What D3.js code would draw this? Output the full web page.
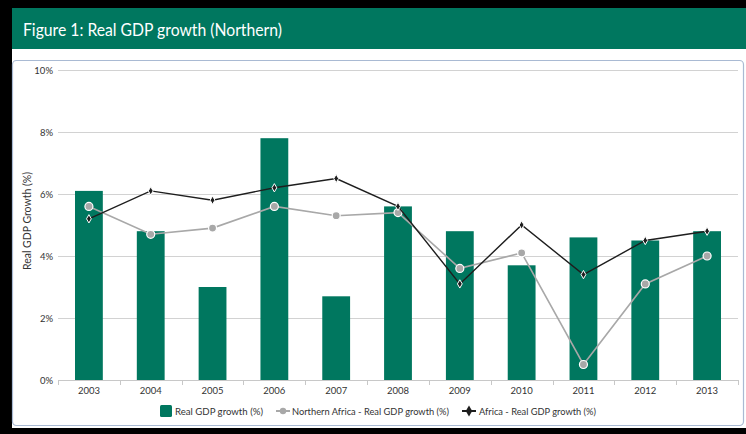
<!DOCTYPE html>
<html>
<head>
<meta charset="utf-8">
<script src="https://cdn.jsdelivr.net/npm/d3@7"></script>
<style>
  html, body { margin: 0; padding: 0; background: #000; }
  svg { display: block; }
  text { font-family: Lato, "Open Sans", sans-serif; }
</style>
</head>
<body>
<svg id="chart" width="746" height="434"></svg>
<script>
// Real GDP growth, Northern region vs. Northern Africa and Africa
const years = ["2003","2004","2005","2006","2007","2008","2009","2010","2011","2012","2013"];
const regionGrowth = [6.1, 4.8, 3.0, 7.8, 2.7, 5.6, 4.8, 3.7, 4.6, 4.5, 4.8];
const northernAfricaGrowth = [5.6, 4.7, 4.9, 5.6, 5.3, 5.4, 3.6, 4.1, 0.5, 3.1, 4.0];
const africaGrowth = [5.2, 6.1, 5.8, 6.2, 6.5, 5.6, 3.1, 5.0, 3.4, 4.5, 4.8];
const yTicks = [0, 2, 4, 6, 8, 10];
const titleText = "Figure 1: Real GDP growth (Northern)";
const yAxisTitle = "Real GDP Growth (%)";
const legendLabels = ["Real GDP growth (%)", "Northern Africa - Real GDP growth (%)", "Africa - Real GDP growth (%)"];

const GREEN = "#00775f";
const GREY = "#a8a8a8";
const DARK = "#1e1e1e";

const svg = d3.select("#chart");

// frame: black surround, white page, green title band
svg.append("rect").attr("x", 0).attr("y", 0).attr("width", 746).attr("height", 434).attr("fill", "#000");
svg.append("rect").attr("x", 12).attr("y", 8).attr("width", 734).attr("height", 420).attr("fill", "#fff");
svg.append("rect").attr("x", 12).attr("y", 8).attr("width", 734).attr("height", 41).attr("fill", GREEN);
svg.append("text")
  .attr("x", 23).attr("y", 36)
  .attr("fill", "#fff")
  .attr("font-size", 17)
  .attr("textLength", 259).attr("lengthAdjust", "spacingAndGlyphs")
  .text(titleText);

// chart panel
svg.append("rect")
  .attr("x", 12.5).attr("y", 60.5).attr("width", 731).attr("height", 365)
  .attr("rx", 4).attr("fill", "#fff")
  .attr("stroke", "#a9bad3").attr("stroke-width", 1.2);

const margin = { left: 58, right: 738, top: 70, bottom: 380 };

const x = d3.scaleBand().domain(years).range([margin.left, margin.right]).paddingInner(0.55).paddingOuter(0.275);
const xc = d3.scaleBand().domain(years).range([margin.left, margin.right]);
const y = d3.scaleLinear().domain([0, 10]).range([margin.bottom, margin.top]);

// horizontal gridlines + y labels
const yAxis = d3.axisLeft(y).tickValues(yTicks).tickFormat(d => d + "%")
  .tickSize(-(margin.right - margin.left)).tickPadding(5);
const gy = svg.append("g").attr("transform", `translate(${margin.left},0)`).call(yAxis);
gy.select(".domain").remove();
gy.selectAll(".tick line").attr("stroke", "#d2d2d2").attr("stroke-width", 1);
gy.selectAll(".tick text").attr("fill", "#333").attr("font-size", 9.5)
  .style("font-family", "Lato, 'Open Sans', sans-serif");

// y axis title
svg.append("text")
  .attr("transform", `translate(31,${(margin.top + margin.bottom) / 2 - 4}) rotate(-90)`)
  .attr("text-anchor", "middle")
  .attr("fill", "#333")
  .attr("font-size", 10.5)
  .text(yAxisTitle);

// bars
svg.append("g").selectAll("rect")
  .data(years.map((yr, i) => ({ yr, v: regionGrowth[i] })))
  .join("rect")
  .attr("x", d => x(d.yr))
  .attr("y", d => y(d.v))
  .attr("width", x.bandwidth())
  .attr("height", d => y(0) - y(d.v))
  .attr("fill", GREEN);

// x axis: baseline with ticks at category boundaries
const xAxisG = svg.append("g").attr("transform", `translate(0,${margin.bottom})`);
xAxisG.append("line").attr("x1", margin.left).attr("x2", margin.right).attr("y1", 0.5).attr("y2", 0.5)
  .attr("stroke", "#c8c8c8");
const bounds = years.map(yr => xc(yr)).concat([margin.right]);
xAxisG.selectAll("line.tk").data(bounds).join("line")
  .attr("class", "tk")
  .attr("x1", d => Math.round(d) + 0.5).attr("x2", d => Math.round(d) + 0.5)
  .attr("y1", 0).attr("y2", 5)
  .attr("stroke", "#c8c8c8");
xAxisG.selectAll("text").data(years).join("text")
  .attr("x", d => xc(d) + xc.bandwidth() / 2)
  .attr("y", 14)
  .attr("text-anchor", "middle")
  .attr("fill", "#333")
  .attr("font-size", 9.5)
  .text(d => d);

const cx = yr => xc(yr) + xc.bandwidth() / 2;
const line = d3.line().x(d => cx(d.yr)).y(d => y(d.v));

// Northern Africa series
const naData = years.map((yr, i) => ({ yr, v: northernAfricaGrowth[i] }));
svg.append("path").datum(naData).attr("d", line)
  .attr("fill", "none").attr("stroke", GREY).attr("stroke-width", 1.6);
svg.append("g").selectAll("circle").data(naData).join("circle")
  .attr("cx", d => cx(d.yr)).attr("cy", d => y(d.v)).attr("r", 4)
  .attr("fill", GREY).attr("stroke", "#fff").attr("stroke-width", 1.2);

// Africa series
const afData = years.map((yr, i) => ({ yr, v: africaGrowth[i] }));
svg.append("path").datum(afData).attr("d", line)
  .attr("fill", "none").attr("stroke", DARK).attr("stroke-width", 1.4);
const diamond = d3.symbol().type(d3.symbolDiamond).size(20);
svg.append("g").selectAll("path").data(afData).join("path")
  .attr("transform", d => `translate(${cx(d.yr)},${y(d.v)})`)
  .attr("d", diamond)
  .attr("fill", DARK).attr("stroke", "#fff").attr("stroke-width", 1);

// legend
const lg = svg.append("g").attr("transform", "translate(0,411)");
lg.append("rect").attr("x", 160).attr("y", -6).attr("width", 12).attr("height", 12).attr("rx", 1.5).attr("fill", GREEN);
lg.append("text").attr("x", 175).attr("y", 3.5).attr("font-size", 9.5).attr("fill", "#333")
  .attr("textLength", 88).attr("lengthAdjust", "spacingAndGlyphs").text(legendLabels[0]);

lg.append("line").attr("x1", 276).attr("x2", 290).attr("y1", 0).attr("y2", 0).attr("stroke", GREY).attr("stroke-width", 2);
lg.append("circle").attr("cx", 283).attr("cy", 0).attr("r", 3.2).attr("fill", GREY);
lg.append("text").attr("x", 292).attr("y", 3.5).attr("font-size", 9.5).attr("fill", "#333")
  .attr("textLength", 157).attr("lengthAdjust", "spacingAndGlyphs").text(legendLabels[1]);

lg.append("line").attr("x1", 462).attr("x2", 476).attr("y1", 0).attr("y2", 0).attr("stroke", DARK).attr("stroke-width", 2);
lg.append("path").attr("transform", "translate(469,0)").attr("d", d3.symbol().type(d3.symbolDiamond).size(36)()).attr("fill", DARK);
lg.append("text").attr("x", 479).attr("y", 3.5).attr("font-size", 9.5).attr("fill", "#333")
  .attr("textLength", 117).attr("lengthAdjust", "spacingAndGlyphs").text(legendLabels[2]);
</script>
</body>
</html>
